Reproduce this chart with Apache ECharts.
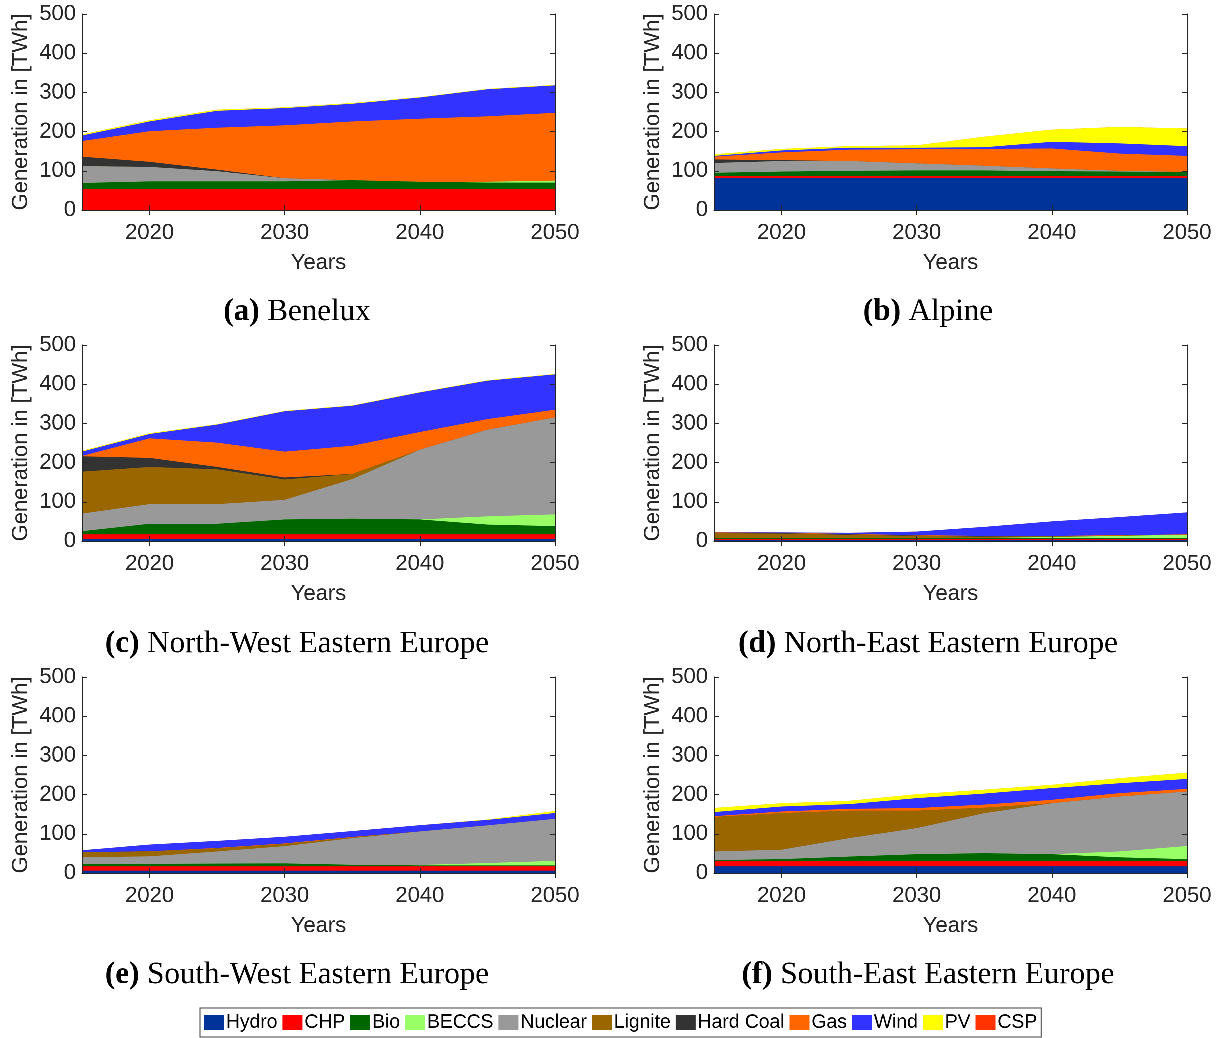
<!DOCTYPE html>
<html><head><meta charset="utf-8">
<script>
// render the canvas at a higher internal resolution so thin layers keep their edges
try { Object.defineProperty(window, 'devicePixelRatio', {get: function () { return 4; }, configurable: true}); } catch (e) {}
</script>
<script src="https://cdn.jsdelivr.net/npm/echarts@6/dist/echarts.min.js"></script>
<style>html,body{margin:0;padding:0;background:#fff}#c{width:1224px;height:1038px}</style>
</head><body><div id="c"></div>
<script>
// ---------- DATA ----------
const years = ['2015','2020','2025','2030','2035','2040','2045','2050'];
const techs = ['Hydro','CHP','Bio','BECCS','Nuclear','Lignite','Hard Coal','Gas','Wind','PV','CSP'];

// (a) Benelux
const beneluxHydro    = [0,0,0,0,0,0,0,0];
const beneluxCHP      = [53,53,53,53,53,53,53,53];
const beneluxBio      = [16,20,20,20,23,19,17,17];
const beneluxBECCS    = [0,0,0,0,0,0,2,5];
const beneluxNuclear  = [43,37,26,8,0,0,0,0];
const beneluxLignite  = [0,0,0,0,0,0,0,0];
const beneluxHardCoal = [24,13,4,0,0,0,0,0];
const beneluxGas      = [40,78,107,135,150,161,167,173];
const beneluxWind     = [14,25,43,44,45,54,69,70];
const beneluxPV       = [3,3,3,2,2,1,1,1];
const beneluxCSP      = [0,0,0,0,0,0,0,0];

// (b) Alpine
const alpineHydro    = [81,81,81,81,81,81,81,81];
const alpineCHP      = [6,6,6,6,6,6,6,6];
const alpineBio      = [8,11,13,14,14,12,11,10];
const alpineBECCS    = [0,0,0,0,0,0,0,0];
const alpineNuclear  = [25,27,25,18,12,7,2,0];
const alpineLignite  = [0,0,0,0,0,0,0,0];
const alpineHardCoal = [9,2,0,0,0,0,0,0];
const alpineGas      = [7,20,29,36,43,51,44,41];
const alpineWind     = [2,5,5,4,4,17,26,25];
const alpinePV       = [4,4,4,6,27,31,42,45];
const alpineCSP      = [0,0,0,0,0,0,0,0];

// (c) North-West Eastern Europe
const nweHydro    = [5,5,5,5,5,5,5,5];
const nweCHP      = [12,12,12,12,12,12,12,12];
const nweBio      = [8,27,27,38,40,38,25,21];
const nweBECCS    = [0,0,0,0,0,0,21,30];
const nweNuclear  = [45,50,50,50,101,178,221,247];
const nweLignite  = [107,95,89,52,13,0,0,0];
const nweHardCoal = [39,23,6,5,0,0,0,0];
const nweGas      = [1,50,62,66,72,45,27,20];
const nweWind     = [11,11,46,103,102,101,98,90];
const nwePV       = [2,2,1,1,1,1,1,1];
const nweCSP      = [0,0,0,0,0,0,0,0];

// (d) North-East Eastern Europe
const neeHydro    = [2,2,2,2,2,2,2,2];
const neeCHP      = [3,3,3,3,3,3,3,3];
const neeBio      = [3,3,3,3,3,3,3,3];
const neeBECCS    = [0,0,0,0,0,2,5,8];
const neeNuclear  = [0,0,0,0,0,0,0,0];
const neeLignite  = [12,11,8,5,3,2,1,0];
const neeHardCoal = [1,1,1,1,1,0,0,0];
const neeGas      = [1,1,1,1,1,1,1,1];
const neeWind     = [1,1,3,9,23,37,46,56];
const neePV       = [0,0,0,0,0,0,0,0];
const neeCSP      = [0,0,0,0,0,0,0,0];

// (e) South-West Eastern Europe
const sweHydro    = [6,6,6,6,6,6,6,6];
const sweCHP      = [11,11,11,11,11,11,11,11];
const sweBio      = [6,6.5,7,7.5,4,2.5,2.5,2.5];
const sweBECCS    = [0,0,0,0,0,1,6,11.5];
const sweNuclear  = [17,19,31,44,68,85.5,96,107];
const sweLignite  = [13,13,8,6,2,0,0,0];
const sweHardCoal = [0,0,0,0,0,0,0,0];
const sweGas      = [0,0,1,1,1,0,0,0];
const sweWind     = [5,17,18,17,15,16,14,15];
const swePV       = [0,0,0,0,0,0,1,5];
const sweCSP      = [0,0,0,0,0,0,0,0];

// (f) South-East Eastern Europe
const seeHydro    = [17,17,17,17,17,17,17,17];
const seeCHP      = [14,14,14,14,14,14,14,14];
const seeBio      = [2,4.4,11,17,19.6,17,9,4.4];
const seeBECCS    = [0,0,0,0,0,0,15,33.5];
const seeNuclear  = [22,24,47,66.5,102,130,140,139];
const seeLignite  = [88,93.5,70,44.5,14,0,0,0];
const seeHardCoal = [0,0,0,0,0,0,0,0];
const seeGas      = [2,4,4.7,6.6,8,8.7,8.7,6.7];
const seeWind     = [10.4,12.7,12,25.4,28,30,25.3,25.3];
const seePV       = [10.6,8.3,8.4,10,10,8.3,12.8,16];
const seeCSP      = [0,0,0,0,0,0,0,0];

const panelLetters = ['(a)','(b)','(c)','(d)','(e)','(f)'];
const panelNames = ['Benelux','Alpine','North-West Eastern Europe','North-East Eastern Europe','South-West Eastern Europe','South-East Eastern Europe'];
const panelData = [
  [beneluxHydro,beneluxCHP,beneluxBio,beneluxBECCS,beneluxNuclear,beneluxLignite,beneluxHardCoal,beneluxGas,beneluxWind,beneluxPV,beneluxCSP],
  [alpineHydro,alpineCHP,alpineBio,alpineBECCS,alpineNuclear,alpineLignite,alpineHardCoal,alpineGas,alpineWind,alpinePV,alpineCSP],
  [nweHydro,nweCHP,nweBio,nweBECCS,nweNuclear,nweLignite,nweHardCoal,nweGas,nweWind,nwePV,nweCSP],
  [neeHydro,neeCHP,neeBio,neeBECCS,neeNuclear,neeLignite,neeHardCoal,neeGas,neeWind,neePV,neeCSP],
  [sweHydro,sweCHP,sweBio,sweBECCS,sweNuclear,sweLignite,sweHardCoal,sweGas,sweWind,swePV,sweCSP],
  [seeHydro,seeCHP,seeBio,seeBECCS,seeNuclear,seeLignite,seeHardCoal,seeGas,seeWind,seePV,seeCSP]
];

// ---------- STYLE ----------
const techColors = ['#003399','#FF0000','#006600','#99FF66','#999999','#996600','#333333','#FF6600','#3333FF','#FFFF00','#FF3300'];
const colLeft = [82, 714];
const rowTop = [14, 345, 677];
const gW = 473, gH = 196;
const titleCx = [292, 923];
const titleCy = [307, 639, 970];
const axisColor = '#262626';
const sans = 'Liberation Sans';

const grids = [], xAxes = [], yAxes = [], series = [], titles = [];
for (let i = 0; i < 6; i++) {
  const c = i % 2, r = Math.floor(i / 2);
  grids.push({left: colLeft[c], top: rowTop[r], width: gW, height: gH, show: false, containLabel: false});
}
const labIv = (idx, val) => (+val) % 10 === 0;
for (let i = 0; i < 6; i++) {
  xAxes.push({
    type: 'category', gridIndex: i, data: years, boundaryGap: false, position: 'bottom',
    name: 'Years', nameLocation: 'middle', nameGap: 42,
    nameTextStyle: {fontFamily: sans, fontSize: 22, color: axisColor},
    axisLine: {show: true, lineStyle: {color: axisColor, width: 1}},
    axisTick: {show: true, inside: true, length: 5, interval: labIv, lineStyle: {color: axisColor}},
    axisLabel: {interval: labIv, fontFamily: sans, fontSize: 22, color: axisColor, margin: 12},
    splitLine: {show: false}, z: 5
  });
  yAxes.push({
    type: 'value', gridIndex: i, min: 0, max: 500, interval: 100, position: 'left',
    name: 'Generation in [TWh]', nameLocation: 'middle', nameGap: 50,
    nameTextStyle: {fontFamily: sans, fontSize: 22, color: axisColor},
    axisLine: {show: true, lineStyle: {color: axisColor, width: 1}},
    axisTick: {show: true, inside: true, length: 5, lineStyle: {color: axisColor}},
    axisLabel: {fontFamily: sans, fontSize: 22, color: axisColor, margin: 6},
    splitLine: {show: false}, z: 5
  });
}
for (let i = 0; i < 6; i++) {
  xAxes.push({
    type: 'category', gridIndex: i, data: years, boundaryGap: false, position: 'top',
    axisLine: {show: true, lineStyle: {color: axisColor, width: 1}},
    axisTick: {show: true, inside: true, length: 5, interval: labIv, lineStyle: {color: axisColor}},
    axisLabel: {show: false}, splitLine: {show: false}, z: 5
  });
  yAxes.push({
    type: 'value', gridIndex: i, min: 0, max: 500, interval: 100, position: 'right',
    axisLine: {show: true, lineStyle: {color: axisColor, width: 1}},
    axisTick: {show: true, inside: true, length: 5, lineStyle: {color: axisColor}},
    axisLabel: {show: false}, splitLine: {show: false}, z: 5
  });
}
for (let i = 0; i < 6; i++) {
  // running totals of the stacked layers (each area is drawn from its running total down to 0,
  // topmost layer first, so every layer shows between its own total and the one below)
  const totals = [];
  let run = years.map(() => 0);
  for (let k = 0; k < techs.length; k++) {
    run = run.map((v, j) => v + panelData[i][k][j]);
    totals.push(run.slice());
  }
  for (let k = techs.length - 1; k >= 0; k--) {
    series.push({
      type: 'line', name: techs[k], xAxisIndex: i, yAxisIndex: i,
      data: totals[k], symbol: 'none', showSymbol: false,
      lineStyle: {width: 0}, itemStyle: {color: techColors[k]},
      areaStyle: {color: techColors[k], opacity: 1, origin: 'start'},
      emphasis: {disabled: true}, silent: true, z: 2
    });
  }
  const c = i % 2, r = Math.floor(i / 2);
  titles.push({
    text: '{b|' + panelLetters[i] + '} ' + panelNames[i],
    left: titleCx[c], top: titleCy[r], textAlign: 'center', textVerticalAlign: 'middle',
    textStyle: {fontFamily: 'Liberation Serif', fontSize: 31, fontWeight: 'normal', color: '#000',
      rich: {b: {fontFamily: 'Liberation Serif', fontSize: 31, fontWeight: 'bold', color: '#000'}}}
  });
}

const chart = echarts.init(document.getElementById('c'), null, {renderer: 'canvas', devicePixelRatio: 4});
chart.setOption({
  animation: false,
  backgroundColor: '#fff',
  title: titles,
  grid: grids, xAxis: xAxes, yAxis: yAxes, series: series,
  legend: {
    data: techs, left: 200, top: 1008, icon: 'rect', itemWidth: 20, itemHeight: 15, itemGap: 5,
    padding: [5, 4], borderColor: '#444', borderWidth: 1, selectedMode: false,
    textStyle: {fontFamily: sans, fontSize: 19.3, color: '#000', padding: [0, 0, 0, -3]}
  }
});
</script></body></html>
